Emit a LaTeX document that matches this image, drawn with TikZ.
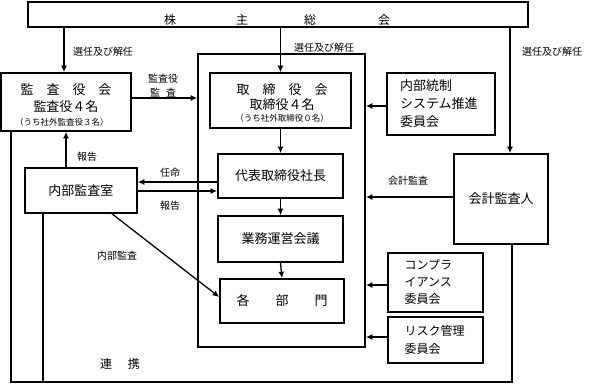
\documentclass[tikz,border=0pt]{standalone}
\usepackage{fontspec}
\setmainfont{Noto Sans CJK JP}
\usetikzlibrary{arrows.meta,calc}
\begin{document}
\begin{tikzpicture}[x=1pt,y=-1pt,
  box/.style={draw,line width=1.6pt,inner sep=0pt,anchor=center,font=\fontsize{13}{16}\selectfont},
  txt/.style={inner sep=0pt,font=\fontsize{13}{16}\selectfont},
  arr/.style={line width=1.3pt,-{Latex[length=6.5pt,width=6pt]}},
  ln/.style={line width=1.3pt},
  lab/.style={font=\fontsize{10}{12}\selectfont,inner sep=0pt},
  smalltxt/.style={inner sep=0pt,font=\fontsize{8.5}{10}\selectfont}
]
\useasboundingbox (0,0) rectangle (603,388);

% boxes
\node[box,minimum width=500pt,minimum height=25pt] (top) at (278,14.5) {};
\node[txt,font=\fontsize{12}{14}\selectfont] (topt) at (277,20)
  {株\hspace{60pt}主\hspace{56pt}総\hspace{62pt}会};

\node[box,minimum width=130pt,minimum height=58pt] (kansa) at (66,102) {};
\node[txt] (kansa1) at (66,90) {監\hspace{1em}査\hspace{1em}役\hspace{1em}会};
\node[txt] (kansa2) at (66,107) {監査役４名};
\node[smalltxt] (kansa3) at (62,122) {（うち社外監査役３名）};

\node[box,minimum width=167pt,minimum height=293pt] (big) at (281.5,200.5) {};

\node[box,minimum width=141pt,minimum height=55pt] (tori) at (280.5,100.5) {};
\node[txt] (tori1) at (282,90) {取\hspace{1em}締\hspace{1em}役\hspace{1em}会};
\node[txt] (tori2) at (282,105) {取締役４名};
\node[smalltxt] (tori3) at (282,118.5) {（うち社外取締役０名）};

\node[box,minimum width=108pt,minimum height=62pt,text width=82pt,align=left,font=\fontsize{13}{18}\selectfont] (nt) at (441,104)
  {内部統制\\システム推進\\委員会};
\node[box,minimum width=125pt,minimum height=44pt] (daihyo) at (280.5,176) {代表取締役社長};
\node[box,minimum width=125pt,minimum height=46pt] (gyomu) at (280.5,239) {業務運営会議};
\node[box,minimum width=124pt,minimum height=44pt] (bumon) at (282,301)
  {各\hspace{2em}部\hspace{2em}門};
\node[box,minimum width=112pt,minimum height=45pt] (room) at (81,190.5) {内部監査室};
\node[box,minimum width=94pt,minimum height=90pt] (kaikei) at (501,199) {会計監査人};
\node[box,minimum width=95pt,minimum height=59pt,text width=62pt,align=left,font=\fontsize{12}{17}\selectfont] (comp) at (435.5,282.5)
  {コンプラ\\イアンス\\委員会};
\node[box,minimum width=95pt,minimum height=46pt,text width=62pt,align=left,font=\fontsize{12}{18}\selectfont] (risk) at (435.5,340)
  {リスク管理\\委員会};

% labels
\node[lab] (l1) at (103,52) {選任及び解任};
\node[lab] (l2) at (324,48) {選任及び解任};
\node[lab] (l3) at (552,52) {選任及び解任};
\node[lab,align=center,font=\fontsize{10}{14}\selectfont] (l4) at (163,86) {監査役\\監\hspace{0.6em}査};
\node[lab] (l5) at (87,157) {報告};
\node[lab] (l6) at (170,173) {任命};
\node[lab] (l7) at (170,206) {報告};
\node[lab] (l8) at (408,181) {会計監査};
\node[lab] (l9) at (117,256) {内部監査};
\node[lab,font=\fontsize{12}{14}\selectfont] (l10) at (120,364) {連\hspace{1.3em}携};

% arrows from shareholders
\draw[arr] ([xshift=-2pt]kansa.north |- top.south) -- ([xshift=-2pt]kansa.north);
\draw[arr] (tori.north |- top.south) -- (tori.north);
\draw[arr] ([xshift=9pt]kaikei.north |- top.south) -- ([xshift=9pt]kaikei.north);

% audit board -> board
\coordinate (k1) at ([yshift=4pt]kansa.east);
\draw[arr] (k1) -- (k1 -| big.west);
% internal control committee -> big box
\coordinate (n1) at ([yshift=-2pt]nt.west);
\draw[arr] (n1) -- (n1 -| big.east);

% chain
\draw[arr] (tori.south) -- (daihyo.north);
\draw[arr] (daihyo.south) -- (gyomu.north);
\draw[arr] (gyomu.south) -- (bumon.north);

% internal audit office
\draw[arr] (room.north -| kansa.south) -- (kansa.south);
\coordinate (yA) at (0,182);
\coordinate (yB) at (0,191);
\draw[arr] (daihyo.west |- yA) -- (room.east |- yA);
\draw[arr] (room.east |- yB) -- (daihyo.west |- yB);
\draw[arr] ([xshift=31pt]room.south) -- ([yshift=4pt]bumon.west);

% accounting auditor
\coordinate (a1) at ([yshift=2pt]kaikei.west);
\draw[arr] (a1) -- (a1 -| big.east);

% committees
\coordinate (c1) at ([yshift=-2.5pt]comp.west);
\draw[arr] (c1) -- (c1 -| big.east);
\coordinate (r1) at ([yshift=3pt]risk.west);
\draw[arr] (r1) -- (r1 -| big.east);

% cooperation lines
\coordinate (bl) at (11,382);
\coordinate (br) at (512,382);
\coordinate (bm) at (43,382);
\draw[ln] (kansa.south -| bl) -- (bl) -- (br) -- (kaikei.south -| br);
\draw[ln] (room.south -| bm) -- (bm);
\end{tikzpicture}
\end{document}
